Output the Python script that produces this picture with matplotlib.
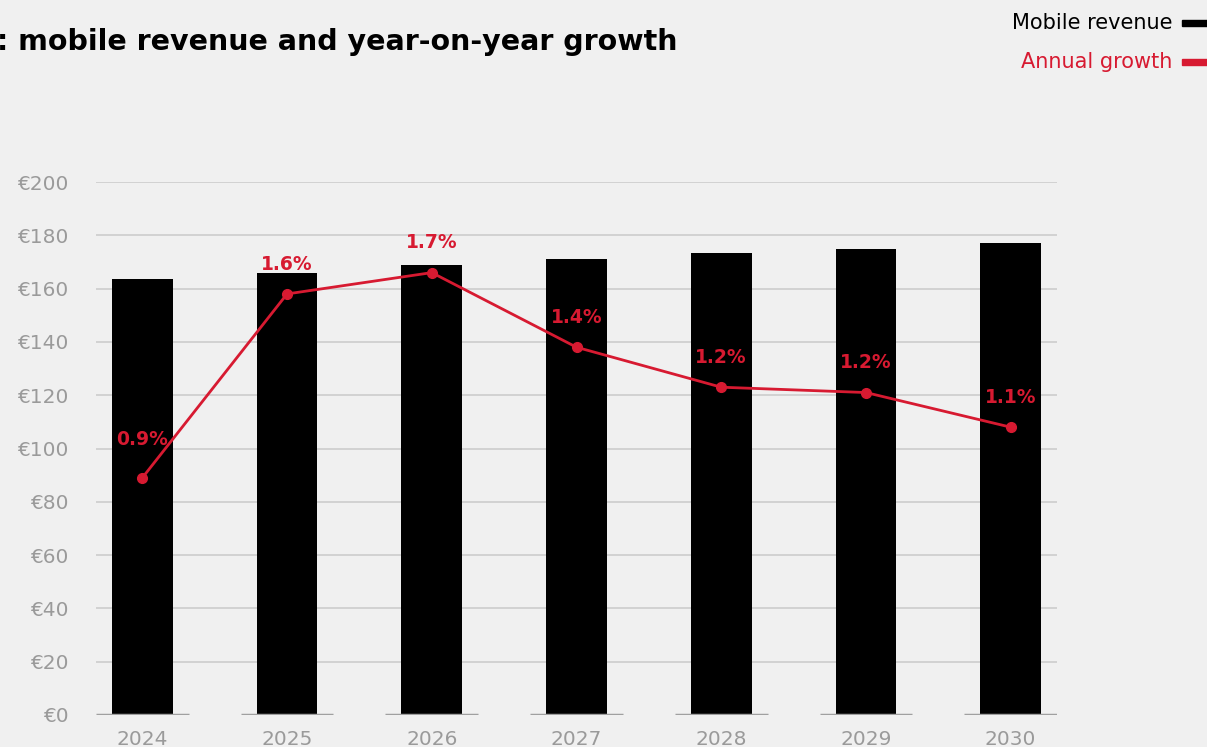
import matplotlib.pyplot as plt
from matplotlib.ticker import FuncFormatter

years = ['2024', '2025', '2026', '2027', '2028', '2029', '2030']
revenue = [163.6, 165.9, 168.9, 171.1, 173.4, 174.9, 177.1]   # EUR
growth = [0.89, 1.58, 1.66, 1.38, 1.23, 1.21, 1.08]           # % su anno precedente
yticks = [0, 20, 40, 60, 80, 100, 120, 140, 160, 180, 200]

red = '#d71a31'
grey = '#9a9a9a'
bg = '#f0f0f0'

plt.rcParams['font.family'] = ['DejaVu Sans']

fig = plt.figure(figsize=(12.07, 7.47), dpi=100, facecolor=bg)
ax = fig.add_axes([96/1207, 1 - 715/747, (1057-96)/1207, (715-182)/747])
ax.set_facecolor(bg)

x = list(range(len(years)))

# griglia orizzontale (lo zero viene disegnato a pezzi sotto le barre)
for t in yticks[1:]:
    ax.axhline(t, color='#cccccc', lw=1.2, zorder=0)
ax.hlines([0]*len(x), [i - 0.32 for i in x], [i + 0.32 for i in x], color='#a0a0a0', lw=2.5, zorder=3)

ax.bar(x, revenue, width=0.42, color='black', zorder=2)

ax.set_xlim(-0.32, len(x) - 1 + 0.32)
ax.set_ylim(0, 200)
ax.set_yticks(yticks)
ax.yaxis.set_major_formatter(FuncFormatter(lambda v, p: '€%d' % v))
ax.set_xticks(x)
ax.set_xticklabels(years)
ax.tick_params(axis='both', length=0, labelcolor=grey, labelsize=14.5)
ax.tick_params(axis='y', pad=20)
ax.tick_params(axis='x', pad=11)
for s in ax.spines.values():
    s.set_visible(False)

# asse secondario per la crescita
ax2 = ax.twinx()
ax2.set_ylim(0, 2.0)
ax2.plot(x, growth, color=red, lw=2, marker='o', ms=7, zorder=4)
ax2.set_yticks([])
for s in ax2.spines.values():
    s.set_visible(False)
for i, g in enumerate(growth):
    off = 21 if i == 0 else 14.5
    ax2.annotate('%.1f%%' % g, (i, g), xytext=(0, off), textcoords='offset points',
                 ha='center', va='bottom', color=red, fontsize=13.5, fontweight='bold')

# titolo (tagliato a sinistra come nell'originale)
fig.text(-3/1207, 1 - 42/747, ': mobile revenue and year-on-year growth', ha='left', va='center',
         fontsize=20.5, fontweight='bold', color='black')

# legenda manuale in alto a destra
fig.text(1172/1207, 1 - 23/747, 'Mobile revenue', ha='right', va='center', fontsize=15, color='black')
fig.text(1172/1207, 1 - 62/747, 'Annual growth', ha='right', va='center', fontsize=15, color=red)
fig.patches.append(plt.Rectangle((1182/1207, 1 - 26/747), 30/1207, 6/747, transform=fig.transFigure,
                                 color='black'))
fig.patches.append(plt.Rectangle((1182/1207, 1 - 65/747), 30/1207, 6/747, transform=fig.transFigure,
                                 color=red))

fig.savefig('out.png', dpi=100, facecolor=bg)
